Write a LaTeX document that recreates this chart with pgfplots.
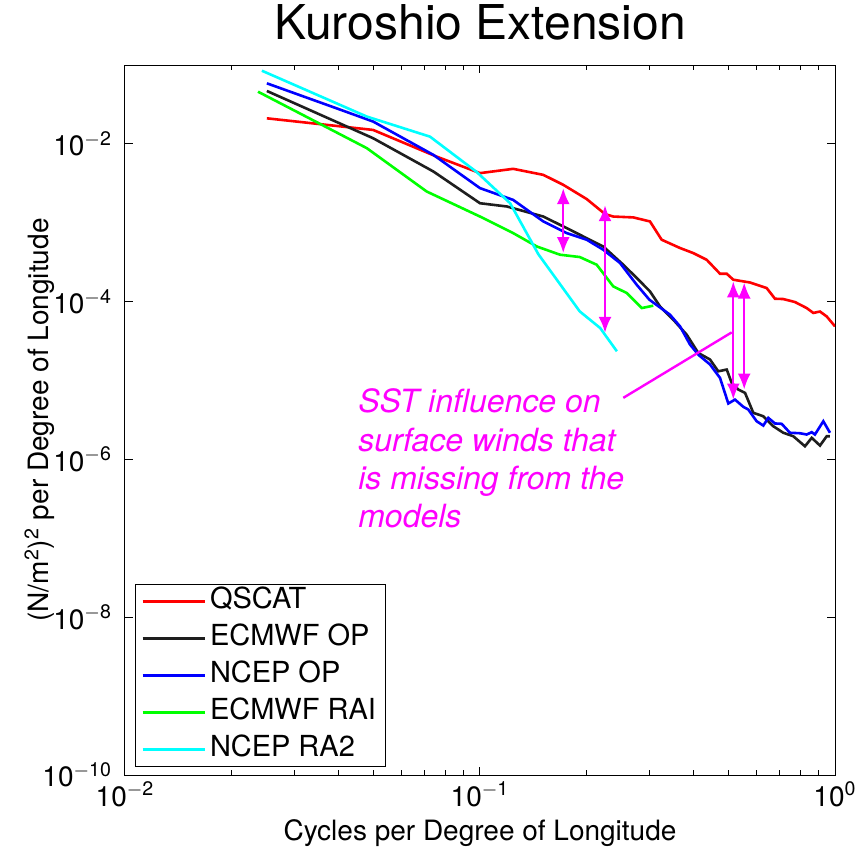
\documentclass[border=0pt]{standalone}
\usepackage{pgfplots}
\pgfplotsset{compat=1.18}
\usetikzlibrary{arrows.meta}
\usepackage{fontspec}
\setmainfont{TeX Gyre Heros}
\definecolor{mred}{RGB}{255,0,0}
\definecolor{mblk}{RGB}{30,30,30}
\definecolor{mblue}{RGB}{0,0,255}
\definecolor{mgreen}{RGB}{0,255,0}
\definecolor{mcyan}{RGB}{0,255,255}
\definecolor{mmag}{RGB}{255,0,255}

\begin{document}
\begin{tikzpicture}
\begin{axis}[
  xmode=log, ymode=log,
  scale only axis, width=355pt, height=355pt,
  xmin=0.01, xmax=1, ymin=1e-10, ymax=1e-1,
  xtick={0.01,0.1,1},
  xticklabels={10\textsuperscript{$-$2},10\textsuperscript{$-$1},10\textsuperscript{0}},
  minor xtick={0.02,0.03,0.04,0.05,0.06,0.07,0.08,0.09,0.2,0.3,0.4,0.5,0.6,0.7,0.8,0.9},
  ytick={1e-10,1e-8,1e-6,1e-4,1e-2},
  yticklabels={10\textsuperscript{$-$10},10\textsuperscript{$-$8},10\textsuperscript{$-$6},10\textsuperscript{$-$4},10\textsuperscript{$-$2}},
  yminorticks=false,
  tick align=inside,
  major tick length=4pt, minor tick length=2.5pt,
  axis line style={line width=0.5pt},
  every tick/.style={line width=0.5pt, black},
  tick label style={font=\fontsize{14}{16}\selectfont},
  yticklabel style={xshift=-3pt},
  label style={font=\fontsize{14}{16}\selectfont},
  xlabel={Cycles per Degree of Longitude},
  ylabel={(N/m\textsuperscript{2})\textsuperscript{2} per Degree of Longitude},
  xlabel style={at={(axis description cs:0.5,-0.082)}, anchor=center},
  ylabel style={at={(axis description cs:-0.12,0.5)}, anchor=center},
  title={Kuroshio Extension},
  title style={font=\fontsize{24}{28}\selectfont, at={(axis description cs:0.5,1)}, anchor=south, yshift=3pt},
  legend cell align=left,
  legend style={at={(axis description cs:0.014,0.011)}, anchor=south west,
    font=\fontsize{14.5}{16}\selectfont, draw=black, line width=0.5pt,
    inner xsep=3pt, inner ysep=1pt, row sep=3.5pt,
    nodes={inner ysep=1pt, text height=10pt, text depth=3pt}},
  legend image code/.code={\draw[#1, line width=1.3pt] (0pt,0pt) -- (31pt,0pt);},
  every axis plot/.append style={line width=1.3pt},
]
\addplot[color=mred] coordinates {
(0.0251,0.0211) (0.05,0.01503) (0.0755,0.0069) (0.1,0.00426) (0.124,0.00483) (0.1508,0.00405) (0.1716,0.00303) (0.1998,0.0020) (0.225,0.00129) (0.2374,0.0012) (0.2703,0.00117) (0.3012,0.00104) (0.3249,6.1e-4) (0.366,4.79e-4) (0.399,4.13e-4) (0.435,3.4e-4) (0.4744,2.26e-4) (0.4955,2.26e-4) (0.517,1.9e-4) (0.5763,1.75e-4) (0.642,1.49e-4) (0.6776,1.09e-4) (0.715,1.08e-4) (0.7713,9.9e-5) (0.8323,8.3e-5) (0.8688,7.2e-5) (0.9073,7.5e-5) (0.9475,6.5e-5) (1.0,4.87e-5)
};
\addlegendentry{QSCAT}
\addplot[color=mblk] coordinates {
(0.0251,0.0469) (0.05,0.0118) (0.0739,0.00447) (0.1,0.00177) (0.119,0.00161) (0.1508,0.0012) (0.1754,8.57e-4) (0.1954,6.71e-4) (0.2225,5.0e-4) (0.2533,2.94e-4) (0.2763,2.0e-4) (0.3012,1.35e-4) (0.3214,8.7e-5) (0.3504,5.9e-5) (0.3822,3.82e-5) (0.412,2.24e-5) (0.4445,1.85e-5) (0.469,1.31e-5) (0.4955,1.38e-5) (0.5117,9.35e-6) (0.534,7.7e-6) (0.558,6.98e-6) (0.5887,3.9e-6) (0.6282,3.53e-6) (0.67,2.64e-6) (0.715,2.18e-6) (0.763,1.97e-6) (0.823,1.47e-6) (0.86,1.88e-6) (0.9073,1.5e-6) (0.9475,1.97e-6) (0.968,1.97e-6)
};
\addlegendentry{ECMWF OP}
\addplot[color=mblue] coordinates {
(0.0251,0.0586) (0.0394,0.0283) (0.05,0.0192) (0.0739,0.00726) (0.1,0.00275) (0.124,0.00195) (0.1508,0.00104) (0.1754,7.41e-4) (0.1998,6.1e-4) (0.2225,4.55e-4) (0.248,3.09e-4) (0.2763,1.64e-4) (0.3,1.06e-4) (0.3429,6.84e-5) (0.366,4.87e-5) (0.3905,2.86e-5) (0.412,2.13e-5) (0.4445,1.6e-5) (0.4744,1.08e-5) (0.5006,5.12e-6) (0.5228,5.74e-6) (0.5516,4.65e-6) (0.5697,4.3e-6) (0.6016,3.05e-6) (0.6282,2.69e-6) (0.6488,3.37e-6) (0.6776,2.86e-6) (0.7077,2.83e-6) (0.7466,2.18e-6) (0.797,2.15e-6) (0.8323,2.07e-6) (0.86,2.22e-6) (0.878,2.07e-6) (0.927,3.05e-6) (0.968,2.18e-6)
};
\addlegendentry{NCEP OP}
\addplot[color=mgreen] coordinates {
(0.0237,0.0459) (0.048,0.00883) (0.0708,0.00249) (0.1,0.0012) (0.124,7.4e-4) (0.1447,5.0e-4) (0.168,3.94e-4) (0.191,3.68e-4) (0.2132,2.94e-4) (0.2374,1.56e-4) (0.259,1.29e-4) (0.2855,8.3e-5) (0.3077,8.9e-5)
};
\addlegendentry{ECMWF RAI}
\addplot[color=mcyan] coordinates {
(0.0243,0.0847) (0.048,0.0222) (0.0723,0.01236) (0.0979,0.0044) (0.1216,0.00177) (0.146,4.0e-4) (0.191,7.53e-5) (0.218,4.64e-5) (0.243,2.35e-5)
};
\addlegendentry{NCEP RA2}
% annotation arrows
\addplot[mmag, line width=1.2pt, <->, >={Latex[length=8pt,width=6.5pt]}, forget plot] coordinates {(0.1716,2.75e-3) (0.1716,4.13e-4)};
\addplot[mmag, line width=1.2pt, <->, >={Latex[length=8pt,width=6.5pt]}, forget plot] coordinates {(0.225,1.67e-3) (0.225,4.02e-5)};
\addplot[mmag, line width=1.2pt, <->, >={Latex[length=8pt,width=6.5pt]}, forget plot] coordinates {(0.517,1.81e-4) (0.517,5.74e-6)};
\addplot[mmag, line width=1.2pt, <->, >={Latex[length=8pt,width=6.5pt]}, forget plot] coordinates {(0.555,1.75e-4) (0.555,7.7e-6)};
\addplot[mmag, line width=1.2pt, forget plot] coordinates {(0.2533,6.04e-6) (0.5117,4.08e-5)};
\node[anchor=north west, inner sep=0pt, align=left, text=mmag, font=\fontsize{16}{19.15}\selectfont\itshape] at (axis cs:0.0453,7.9e-6) {SST influence on\\surface winds that\\is missing from the\\models};
\end{axis}
\pgfresetboundingbox
\path ([xshift=-62.5pt,yshift=-38.5pt]current axis.south west) rectangle ([xshift=12pt,yshift=32.5pt]current axis.north east);
\end{tikzpicture}
\end{document}
